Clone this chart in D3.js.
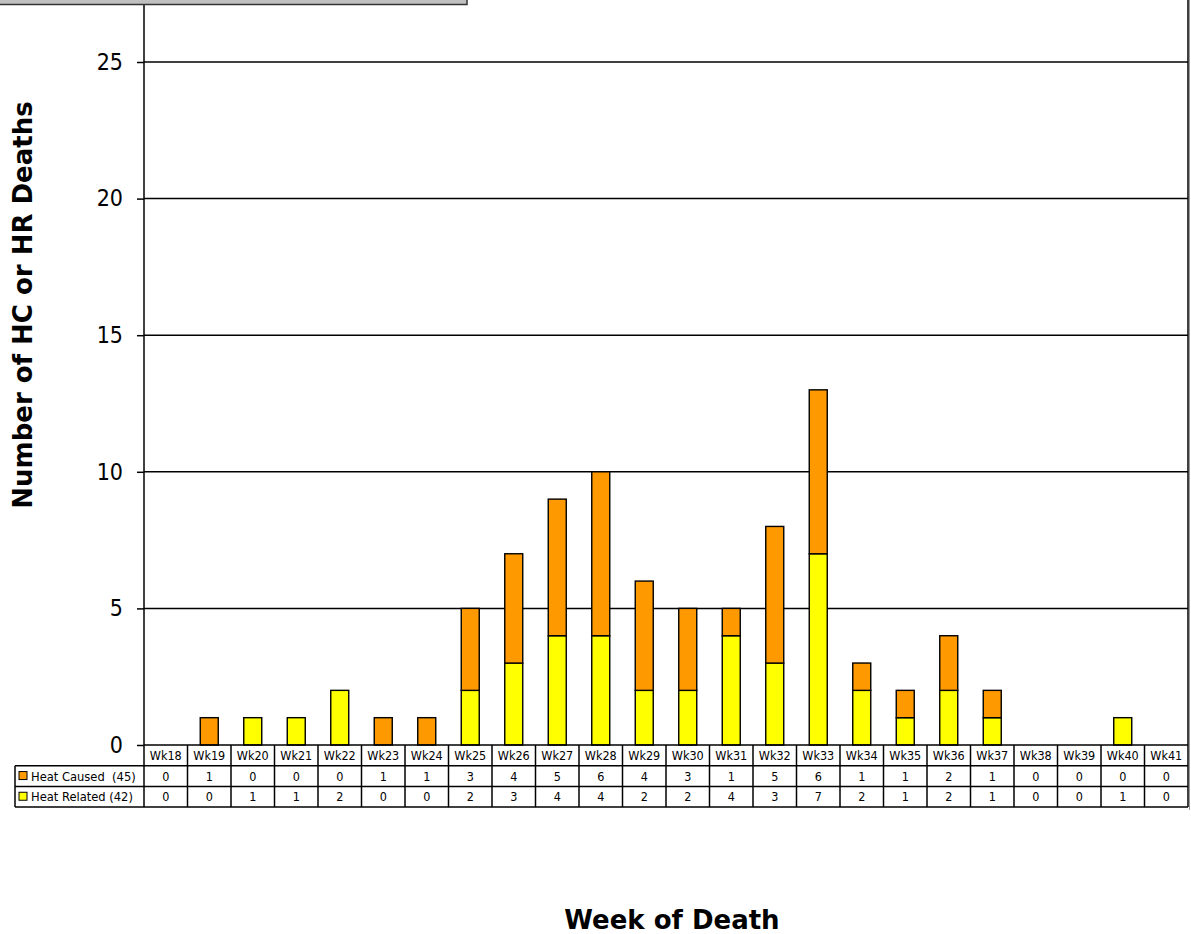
<!DOCTYPE html>
<html>
<head>
<meta charset="utf-8">
<script src="https://cdn.jsdelivr.net/npm/d3@7"></script>
<style>
  body { margin: 0; background: #fff; }
  svg { display: block; }
</style>
</head>
<body>
<div id="chart"></div>
<script>
var weeks = ["Wk18","Wk19","Wk20","Wk21","Wk22","Wk23","Wk24","Wk25","Wk26","Wk27","Wk28","Wk29",
  "Wk30","Wk31","Wk32","Wk33","Wk34","Wk35","Wk36","Wk37","Wk38","Wk39","Wk40","Wk41"];
var heatCaused = [0,1,0,0,0,1,1,3,4,5,6,4,3,1,5,6,1,1,2,1,0,0,0,0];
var heatRelated = [0,0,1,1,2,0,0,2,3,4,4,2,2,4,3,7,2,1,2,1,0,0,1,0];
var seriesNames = ["Heat Caused  (45)", "Heat Related (42)"];
var seriesColors = ["#FF9900", "#FFFF00"];
var yTicks = [0, 5, 10, 15, 20, 25];

var svgWidth = 1191;
var svgHeight = 934;
var font = "Tahoma, 'DejaVu Sans Condensed', 'DejaVu Sans', sans-serif";
var boldFont = "Tahoma, 'DejaVu Sans', sans-serif";

var plot = { left: 144, right: 1188, top: 0, bottom: 745 };

var svg = d3.select("#chart")
  .append("svg")
  .attr("width", svgWidth)
  .attr("height", svgHeight);

var x = d3.scaleBand()
  .domain(weeks)
  .range([plot.left, plot.right])
  .paddingInner(0)
  .paddingOuter(0);

var y = d3.scaleLinear()
  .domain([0, 25])
  .range([plot.bottom, 62]);

// gridlines
svg.append("g")
  .selectAll("line")
  .data(yTicks.filter(d => d > 0))
  .enter()
  .append("line")
  .attr("x1", plot.left)
  .attr("x2", plot.right)
  .attr("y1", d => y(d))
  .attr("y2", d => y(d))
  .attr("stroke", "#000")
  .attr("stroke-width", 1.5);

// stacked bars: heat related on bottom, heat caused on top
var stackData = weeks.map(function(w, i) {
  return { week: w, related: heatRelated[i], caused: heatCaused[i] };
});
var stack = d3.stack().keys(["related", "caused"]);
var layers = stack(stackData);
var layerColors = { related: seriesColors[1], caused: seriesColors[0] };
var barW = 18;

svg.append("g")
  .selectAll("g")
  .data(layers)
  .enter()
  .append("g")
  .attr("fill", d => layerColors[d.key])
  .selectAll("rect")
  .data(d => d.filter(p => p[1] - p[0] > 0))
  .enter()
  .append("rect")
  .attr("x", d => x(d.data.week) + x.bandwidth() / 2 - barW / 2)
  .attr("width", barW)
  .attr("y", d => y(d[1]))
  .attr("height", d => y(d[0]) - y(d[1]))
  .attr("stroke", "#000")
  .attr("stroke-width", 1.4);

// left axis
var leftAxis = d3.axisLeft(y).tickValues(yTicks).tickSize(7).tickPadding(14);
var yAxisG = svg.append("g")
  .attr("transform", `translate(${plot.left},0)`)
  .call(leftAxis);
yAxisG.select(".domain").remove();
yAxisG.selectAll(".tick line").attr("stroke", "#000").attr("stroke-width", 1.5);
yAxisG.selectAll(".tick text")
  .attr("font-family", font)
  .attr("font-size", 23)
  .attr("fill", "#000");

svg.append("line")
  .attr("x1", plot.left).attr("x2", plot.left)
  .attr("y1", plot.top).attr("y2", plot.bottom)
  .attr("stroke", "#000").attr("stroke-width", 1.5);

svg.append("line")
  .attr("x1", plot.right).attr("x2", plot.right)
  .attr("y1", plot.top).attr("y2", plot.bottom)
  .attr("stroke", "#000").attr("stroke-width", 1.5);
svg.append("line")
  .attr("x1", plot.right + 1.5).attr("x2", plot.right + 1.5)
  .attr("y1", plot.top).attr("y2", 810)
  .attr("stroke", "#999").attr("stroke-width", 1);

// data table
var rowH = 20.7;
var tableTop = plot.bottom;
var legendLeft = 15;
var tableRows = [heatCaused, heatRelated];
var table = svg.append("g");

// header row
table.selectAll(".hdr")
  .data(weeks)
  .enter()
  .append("text")
  .attr("class", "hdr")
  .attr("x", d => x(d) + x.bandwidth() / 2)
  .attr("y", tableTop + rowH / 2 + 4.5)
  .attr("text-anchor", "middle")
  .attr("font-family", font)
  .attr("font-size", 12.5)
  .text(d => d);

tableRows.forEach(function(vals, r) {
  var rowY = tableTop + rowH * (r + 1);
  table.append("g").selectAll("text")
    .data(vals)
    .enter()
    .append("text")
    .attr("x", (d, i) => x(weeks[i]) + x.bandwidth() / 2)
    .attr("y", rowY + rowH / 2 + 4.5)
    .attr("text-anchor", "middle")
    .attr("font-family", font)
    .attr("font-size", 12.5)
    .text(d => d);

  table.append("rect")
    .attr("x", legendLeft + 4)
    .attr("y", rowY + rowH / 2 - 4.5)
    .attr("width", 8)
    .attr("height", 8)
    .attr("fill", seriesColors[r])
    .attr("stroke", "#000")
    .attr("stroke-width", 1);

  table.append("text")
    .attr("x", legendLeft + 16)
    .attr("y", rowY + rowH / 2 + 4.5)
    .attr("font-family", font)
    .attr("font-size", 12.8)
    .attr("xml:space", "preserve")
    .text(seriesNames[r]);
});

// table grid lines
var hLines = [0, 1, 2, 3];
table.selectAll(".hl")
  .data(hLines)
  .enter()
  .append("line")
  .attr("x1", d => d === 0 ? plot.left : legendLeft)
  .attr("x2", plot.right)
  .attr("y1", d => tableTop + rowH * d)
  .attr("y2", d => tableTop + rowH * d)
  .attr("stroke", "#000")
  .attr("stroke-width", 1.5);

var vEdges = weeks.map(d => x(d)).concat([plot.right]);
table.selectAll(".vl")
  .data(vEdges)
  .enter()
  .append("line")
  .attr("x1", d => d)
  .attr("x2", d => d)
  .attr("y1", tableTop)
  .attr("y2", tableTop + rowH * 3)
  .attr("stroke", "#000")
  .attr("stroke-width", 1.5);

table.append("line")
  .attr("x1", legendLeft).attr("x2", legendLeft)
  .attr("y1", tableTop + rowH).attr("y2", tableTop + rowH * 3)
  .attr("stroke", "#000").attr("stroke-width", 1.5);

// axis titles
svg.append("text")
  .attr("x", 672)
  .attr("y", 929)
  .attr("text-anchor", "middle")
  .attr("font-family", boldFont)
  .attr("font-weight", "bold")
  .attr("font-size", 26)
  .text("Week of Death");

svg.append("text")
  .attr("transform", "translate(32,305) rotate(-90)")
  .attr("text-anchor", "middle")
  .attr("font-family", boldFont)
  .attr("font-weight", "bold")
  .attr("font-size", 26)
  .text("Number of HC or HR Deaths");

// clipped title box at the top
svg.append("rect")
  .attr("x", -2)
  .attr("y", -10)
  .attr("width", 469)
  .attr("height", 14.5)
  .attr("fill", "#c0c0c0")
  .attr("stroke", "#333")
  .attr("stroke-width", 1.5);
</script>
</body>
</html>
